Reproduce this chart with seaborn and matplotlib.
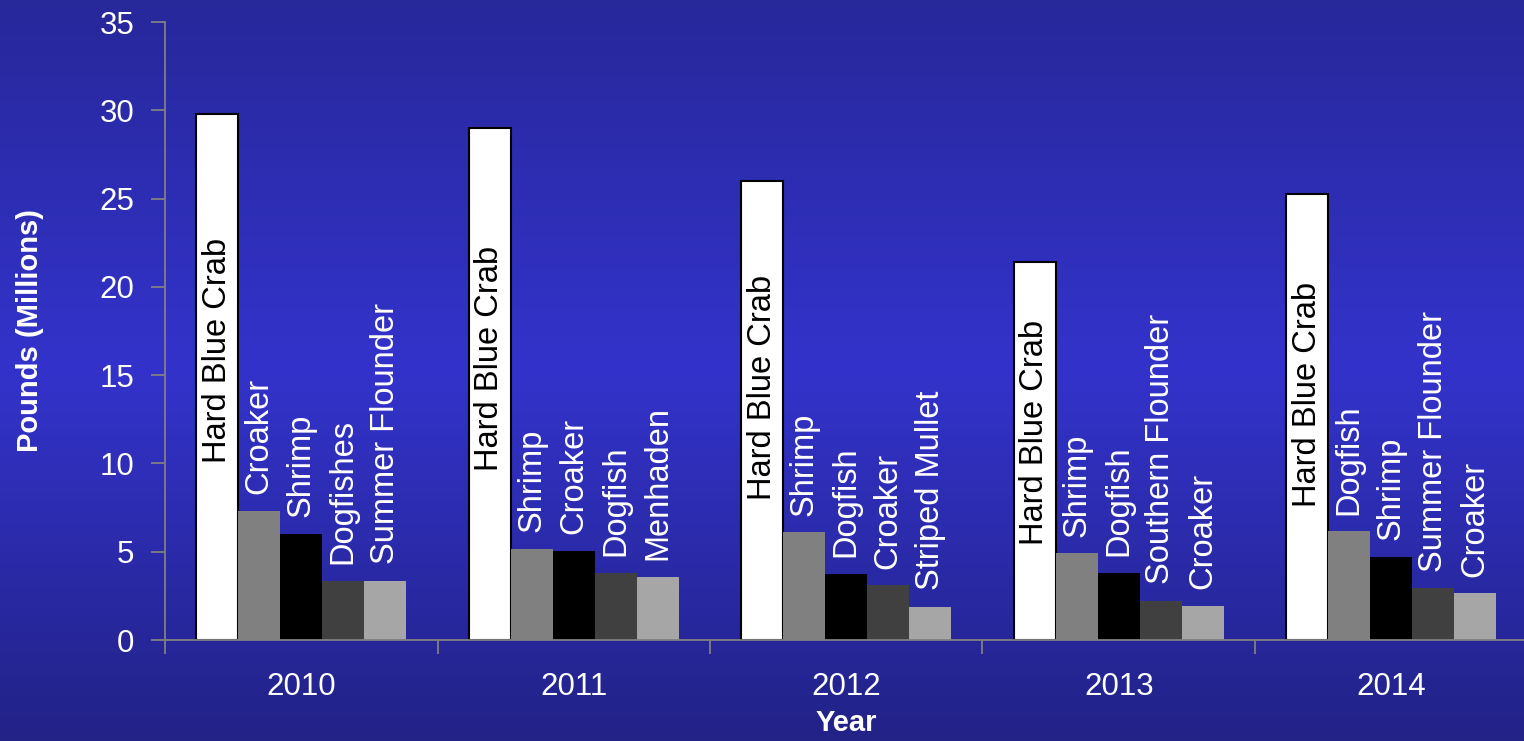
import matplotlib
matplotlib.use("Agg")
import matplotlib.pyplot as plt
from matplotlib.colors import LinearSegmentedColormap
import numpy as np
import pandas as pd
import seaborn as sns

# top five species per year, ranked by landings
years = ["2010", "2011", "2012", "2013", "2014"]
species = [
    ["Hard Blue Crab", "Croaker", "Shrimp", "Dogfishes", "Summer Flounder"],
    ["Hard Blue Crab", "Shrimp", "Croaker", "Dogfish", "Menhaden"],
    ["Hard Blue Crab", "Shrimp", "Dogfish", "Croaker", "Striped Mullet"],
    ["Hard Blue Crab", "Shrimp", "Dogfish", "Southern Flounder", "Croaker"],
    ["Hard Blue Crab", "Dogfish", "Shrimp", "Summer Flounder", "Croaker"],
]
pounds = [
    [29.8, 7.3, 6.0, 3.35, 3.35],
    [29.0, 5.15, 5.05, 3.8, 3.57],
    [26.0, 6.1, 3.75, 3.1, 1.87],
    [21.4, 4.9, 3.8, 2.2, 1.95],
    [25.25, 6.15, 4.7, 2.93, 2.64],
]
ranks = ["r1", "r2", "r3", "r4", "r5"]
rank_colors = ["#ffffff", "#808080", "#000000", "#404040", "#a6a6a6"]

rows = []
for yi, yr in enumerate(years):
    for ri, rk in enumerate(ranks):
        rows.append({"year": yr, "rank": rk, "species": species[yi][ri],
                     "pounds": pounds[yi][ri]})
df = pd.DataFrame(rows)

sns.set_style("white")
plt.rcParams["font.family"] = ["Liberation Sans", "DejaVu Sans"]

fig = plt.figure(figsize=(15.24, 7.41), dpi=100)

# blue gradient background
bg = fig.add_axes([0, 0, 1, 1], zorder=-1)
cmap = LinearSegmentedColormap.from_list(
    "bg", [(0, "#27289a"), (0.5, "#3333cc"), (1, "#222287")])
grad = np.linspace(0, 1, 256).reshape(-1, 1)
bg.imshow(grad, aspect="auto", cmap=cmap, extent=[0, 1, 0, 1])
bg.axis("off")

ax = fig.add_axes([165 / 1524, 1 - 640 / 741, (1527.5 - 165) / 1524, (640 - 22) / 741])
ax.set_facecolor("none")

sns.barplot(data=df, x="year", y="pounds", hue="rank", hue_order=ranks,
            palette=rank_colors, width=0.77, gap=0, saturation=1,
            legend=False, ax=ax, linewidth=0)

for i, cont in enumerate(ax.containers):
    for bar in cont:
        x = bar.get_x() + bar.get_width() / 2
        h = bar.get_height()
        j = int(round(x))
        label = species[j][i]
        if i == 0:
            bar.set_edgecolor("black")
            bar.set_linewidth(1.5)
            ax.text(x, h * 0.55, label, rotation=90, ha="center", va="center",
                    color="black", fontsize=23.5)
        else:
            ax.annotate(label, (x, h), xytext=(0, 12), textcoords="offset points",
                        rotation=90, ha="center", va="bottom", color="white",
                        fontsize=23.5)

ax.set_ylim(0, 35)
ax.set_yticks(range(0, 36, 5))
ax.set_xlim(-0.5, 4.5)
ax.set_xticks(np.arange(-0.5, 5, 1.0))
ax.set_xticklabels([])
ax.set_xticks(range(5), minor=True)
ax.set_xticklabels(years, minor=True)

axis_gray = "#808080"
sns.despine(ax=ax)
for s in ["left", "bottom"]:
    ax.spines[s].set_color(axis_gray)
    ax.spines[s].set_linewidth(1.3)

ax.tick_params(axis="y", which="major", direction="out", length=10, width=1.3,
               color=axis_gray, labelcolor="white", labelsize=22.5, pad=12, left=True)
ax.tick_params(axis="x", which="major", direction="out", length=10, width=1.3,
               color=axis_gray, bottom=True)
ax.tick_params(axis="x", which="minor", length=0, labelcolor="white",
               labelsize=22.5, pad=23)

ax.set_xlabel("Year", color="white", fontsize=21, fontweight="bold")
ax.xaxis.set_label_coords(0.5, -0.112)
ax.set_ylabel("Pounds (Millions)", color="white", fontsize=21, fontweight="bold",
              labelpad=40)

fig.savefig("out.png", dpi=100)
